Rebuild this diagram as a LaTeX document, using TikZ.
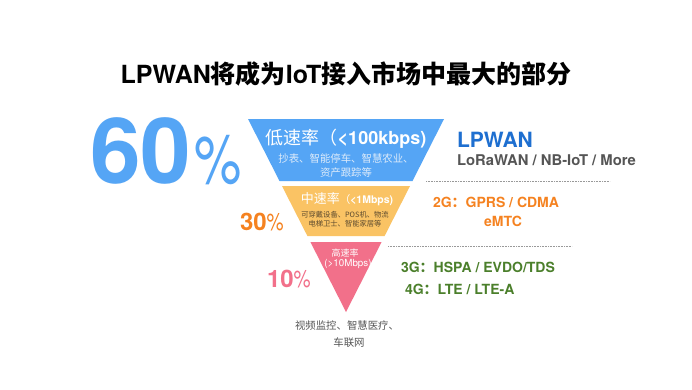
\documentclass[tikz,border=0pt]{standalone}
\usepackage{fontspec}
\setmainfont{TeX Gyre Heros}
\newfontfamily\cjk{Noto Sans CJK SC}
\definecolor{fblue}{HTML}{55A5F5}
\definecolor{forange}{HTML}{FAC364}
\definecolor{fpink}{HTML}{F2708A}
\definecolor{tblue}{HTML}{1E6FD0}
\definecolor{torange}{HTML}{F58220}
\definecolor{tgreen}{HTML}{4B7F2B}
\definecolor{tgray}{HTML}{555555}
\definecolor{lightblue}{HTML}{DDEBFA}
\definecolor{brown}{HTML}{5C4A2E}
\newcommand\fsz[2]{\fontsize{#1}{#2}\selectfont}
\begin{document}
\begin{tikzpicture}[x=1pt,y=-1pt,
  every node/.style={inner sep=0pt,outer sep=0pt},
  sep/.style={draw=gray!80,line width=0.6pt,dash pattern=on 0.8pt off 0.8pt}]
\useasboundingbox[fill=white] (0,0) rectangle (692,389);
% title
\node[anchor=base] (title) at (346,83) {\fsz{25}{30}\bfseries LPWAN{\cjk 将成为}IoT{\cjk 接入市场中最大的部分}};
% funnel
\path[fill=fblue] (248,119) -- (444,119) -- (412.5,181) -- (279.5,181) -- cycle;
\path[fill=forange] (282,186) -- (410,186) -- (384.6,236) -- (307.4,236) -- cycle;
\path[fill=fpink] (310.4,242) -- (381.6,242) -- (346,312) -- cycle;
% blue texts
\node[anchor=base,text=white] (low) at (346,144) {\fsz{18}{22}{\cjk 低速率（}\bfseries <100kbps)};
\node[anchor=base,text=lightblue] (low1) at (346,162) {\fsz{10.4}{12}\cjk 抄表、智能停车、智慧农业、};
\node[anchor=base,text=lightblue] (low2) at (346,176) {\fsz{10.4}{12}\cjk 资产跟踪等};
% orange texts
\node[anchor=base,text=white] (mid) at (347,203) {{\fsz{13}{16}\cjk 中速率}{\fsz{10.5}{12}\cjk （}{\fsz{10.5}{12}\bfseries <1Mbps)}};
\node[anchor=base,text=brown] (mid1) at (345,217) {\fsz{7.3}{9}\cjk 可穿戴设备、POS机、物流};
\node[anchor=base,text=brown] (mid2) at (345,226) {\fsz{7.3}{9}\cjk 电梯卫士、智能家居等};
% pink texts
\node[anchor=base,text=white] (high) at (345,256.5) {\fsz{9}{11}\cjk 高速率};
\node[anchor=base,text=white] (high1) at (348,266.5) {\fsz{9.8}{11}(>10Mbps)};
% percentages
\node[anchor=base west,text=fblue] (p60) at (90,183) {\fsz{91}{100}\bfseries 60};
\node[anchor=base west,text=fblue] (p60s) at (194,183) {\scalebox{0.78}[1]{\fsz{68}{70}\%}};
\node[anchor=base west,text=torange] (p30) at (240,230) {\fsz{24}{28}\bfseries 30\scalebox{0.8}[1]{\mdseries\%}};
\node[anchor=base west,text=fpink] (p10) at (267,287) {\fsz{24}{28}\bfseries 10\scalebox{0.8}[1]{\mdseries\%}};
% separators
\coordinate (s1a) at (426,181); \coordinate (s1b) at (610,181);
\coordinate (s2a) at (388,246); \coordinate (s2b) at (572,246);
\draw[sep] (s1a) -- (s1b);
\draw[sep] (s2a) -- (s2b);
% right texts
\node[anchor=base west,text=tblue] (lp) at (457,147) {\fsz{21}{25}\bfseries LPWAN};
\node[anchor=base west,text=tgray] (lp1) at (457,165) {\fsz{14.8}{18}\bfseries LoRaWAN / NB-IoT / More};
\node[anchor=base,text=torange] (g2) at (496,207) {\fsz{14}{17}\bfseries 2G{\cjk ：}GPRS / CDMA};
\node[anchor=base,text=torange] (g2b) at (503,226) {\fsz{14}{17}\bfseries eMTC};
\node[anchor=base west,text=tgreen] (g3) at (401,272) {\fsz{14}{17}\bfseries 3G{\cjk ：}HSPA / EVDO/TDS};
\node[anchor=base west,text=tgreen] (g4) at (405,294) {\fsz{14}{17}\bfseries 4G{\cjk ：}LTE / LTE-A};
% bottom
\node[anchor=base,text=tgray] (b1) at (347,329) {\fsz{10.4}{12}\cjk 视频监控、智慧医疗、};
\node[anchor=base,text=tgray] (b2) at (349,346) {\fsz{10.4}{12}\cjk 车联网};
\end{tikzpicture}
\end{document}
